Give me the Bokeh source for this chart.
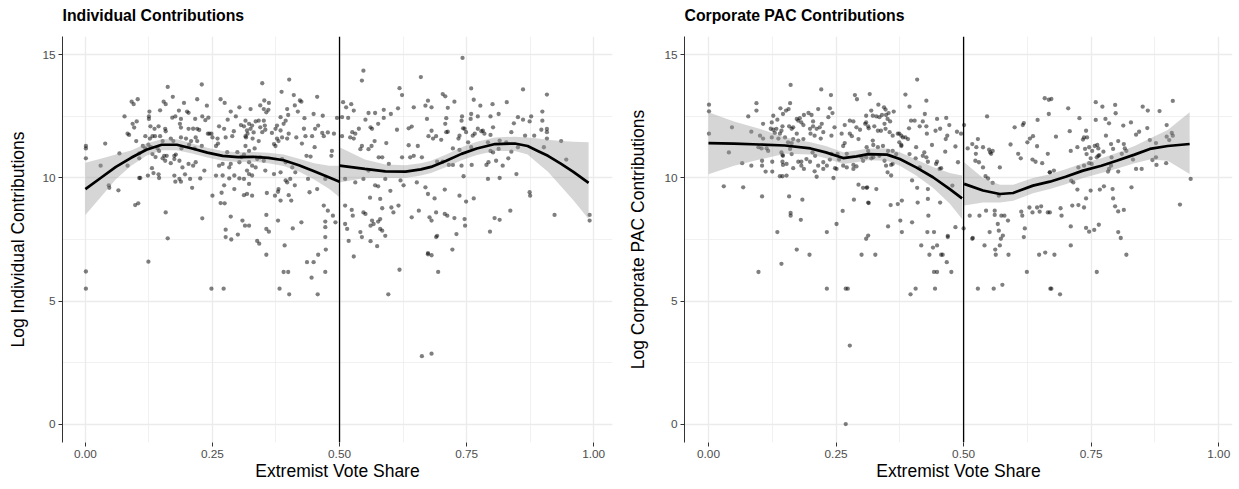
from bokeh.plotting import figure
from bokeh.layouts import row, column
from bokeh.models import FixedTicker, PrintfTickFormatter, Span, Range1d
from bokeh.core.properties import value
from bokeh.embed import file_html
from bokeh.resources import INLINE

# ---------------- data: Individual contributions ----------------
ind_x = [0.001,0.001,0.001,0.039,0.03,0.046,0.047,0.065,0.098,0.104,0.158,0.23,
0.162,0.229,0.172,0.154,0.158,0.194,0.22,0.239,0.266,0.274,0.126,0.125,0.125,0.147,0.184,0.2,0.203,0.177,0.171,0.188,0.216,0.23,0.236,0.242,0.28,0.286,0.296,0.303,
0.077,0.091,0.095,0.103,0.101,0.093,0.096,
0.128,0.136,0.144,0.157,0.158,0.186,0.188,0.203,0.212,0.22,0.224,0.241,0.248,0.263,0.273,0.292,0.306,0.312,
0.083,0.086,0.1,0.118,0.127,0.132,0.137,0.147,0.152,0.168,0.173,0.188,0.198,0.208,0.217,0.22,0.244,0.25,0.26,0.276,0.289,0.316,0.319,
0.113,0.118,0.124,0.129,0.142,0.145,0.155,0.16,0.175,0.178,0.189,0.204,0.215,0.229,0.257,0.261,0.279,0.299,0.312,0.067,0.106,0.106,0.132,0.138,0.152,0.157,0.168,0.175,0.185,0.191,0.203,0.212,0.217,0.234,0.263,0.27,0.283,0.286,0.303,0.307,
0.083,0.106,0.108,0.123,0.131,0.134,0.144,0.145,0.175,0.177,0.185,0.196,0.206,0.226,0.21,0.188,0.257,0.27,0.283,0.293,0.303,0.312,0.273,0.293,0.25,0.268,0.312,0.266,0.274,0.286,0.309,0.276,0.3,0.314,0.162,
0.001,0.001,0.124,0.248,0.272,0.276,0.287,
0.348,0.401,0.386,0.41,0.422,0.425,0.456,0.325,0.352,0.361,0.344,0.351,0.356,0.36,0.397,0.399,0.412,0.418,0.384,0.431,0.467,0.449,
0.315,0.322,0.328,0.335,0.341,0.351,0.353,0.318,0.325,0.331,0.344,0.348,0.354,0.315,0.329,0.341,0.377,0.39,0.394,0.367,0.374,0.384,0.377,0.38,0.387,0.371,0.374,0.397,0.4,0.415,0.43,0.433,0.426,0.446,0.452,0.458,0.466,0.469,0.477,0.489,0.495,0.485,0.484,0.435,0.443,0.451,0.315,0.322,0.333,
0.322,0.328,0.335,0.318,0.322,0.328,0.338,0.344,0.351,0.354,0.371,0.384,0.387,0.394,0.407,0.413,0.394,0.397,0.403,0.412,0.38,0.322,0.318,0.328,0.357,0.373,0.379,0.4,0.405,0.384,0.441,0.438,0.456,0.472,0.469,0.477,0.487,0.492,0.472,0.425,0.379,0.356,0.322,0.356,0.361,0.408,0.472,
0.338,0.342,0.356,0.392,0.472,0.473,0.458,0.436,0.449,0.39,0.399,0.472,0.445,0.382,0.401,0.457,
0.518,0.544,0.561,0.574,0.528,0.618,0.596,0.674,0.662,0.681,
0.547,0.544,0.618,0.623,0.66,0.507,0.513,0.523,0.528,0.505,0.517,0.557,0.57,0.587,0.587,0.601,0.615,0.551,0.561,0.564,0.538,0.525,0.531,0.521,0.528,0.569,0.592,0.505,0.576,0.613,0.636,0.642,0.646,0.669,0.674,0.672,0.675,0.544,0.541,0.557,0.563,0.577,0.584,0.597,0.623,0.636,0.654,0.639,0.646,0.662,0.511,0.531,0.547,0.557,0.57,0.576,0.59,0.6,0.62,0.626,0.652,0.669,0.58,0.56,0.606,0.616,0.511,0.524,0.547,0.551,0.526,0.564,0.576,0.58,0.584,0.602,0.642,0.656,0.561,0.567,0.58,0.584,0.511,0.515,0.59,0.541,
0.742,0.759,0.861,0.908,0.703,0.708,0.681,0.726,0.764,0.801,0.829,0.713,0.777,0.759,0.758,0.772,0.741,0.71,0.708,0.74,0.743,0.797,0.813,0.851,0.861,0.874,0.877,0.899,0.899,0.843,0.897,0.908,0.908,0.681,0.69,0.684,0.71,0.713,0.736,0.734,0.746,0.749,0.762,0.766,0.782,0.785,0.802,0.797,0.772,0.779,0.838,0.865,0.883,0.908,0.936,0.7,0.723,0.736,0.753,0.759,0.792,0.797,0.802,0.815,0.813,0.828,0.838,0.851,0.902,0.703,0.715,0.723,0.74,0.76,0.789,0.793,0.808,0.821,0.832,0.692,0.946,0.744,0.792,0.815,0.848,0.707,0.674,0.687,0.736,0.749,0.764,0.874,0.875,0.707,0.712,0.69,0.726,0.746,0.747,0.677,0.681,0.805,0.815,0.836,0.923,0.992,0.992,0.692,0.73,0.796,
0.674,0.681,0.722,0.694,0.69]
ind_y = [11.3,11.2,10.8,11.4,10.5,9.7,9.6,9.5,8.9,8.97,8.6,8.36,
13.7,13.8,13.3,13.1,13.0,13.05,13.2,12.94,13.2,13.05,12.7,12.5,12.4,12.75,12.74,12.7,12.65,12.5,12.45,12.4,12.4,12.5,12.35,12.45,12.37,12.7,12.5,12.87,
12.5,13.1,13.0,13.2,12.3,12.2,12.05,
12.1,12.0,12.1,12.0,11.9,12.2,12.05,12.0,12.0,12.0,11.95,11.8,11.8,12.1,12.0,11.9,12.15,12.1,
11.8,11.75,11.5,11.7,11.6,11.7,11.7,11.7,11.5,11.6,11.5,11.65,11.6,11.5,11.65,11.5,11.8,11.65,11.6,11.65,11.7,11.65,11.8,
11.3,11.2,11.35,11.25,11.2,11.1,10.9,10.9,10.9,10.95,11.2,11.35,11.2,11.3,11.3,11.4,11.05,11.05,10.95,11.0,11.0,10.8,10.97,10.85,10.8,10.7,10.6,10.77,10.7,10.43,10.57,10.5,10.64,10.3,10.5,10.57,10.43,10.57,10.64,10.85,
10.5,10.0,10.0,10.1,10.4,10.2,10.15,10.0,10.1,9.85,9.96,10.15,9.96,9.98,9.6,9.85,10.1,10.1,9.98,10.1,9.98,9.96,9.7,9.55,9.28,9.4,9.3,8.98,8.97,8.43,8.27,7.9,7.7,8.06,7.55,
6.2,5.5,6.6,5.5,5.5,7.6,7.5,
13.85,14.0,13.5,13.37,13.15,13.1,13.3,12.8,13.15,13.05,12.95,12.8,12.67,12.77,12.8,12.56,12.95,12.7,12.47,12.43,12.53,12.6,
12.33,12.2,12.13,12.3,12.33,12.33,12.13,11.93,12.0,11.85,12.06,11.86,11.96,11.7,11.6,11.5,12.13,12.2,12.33,11.83,12.0,11.93,11.6,11.5,11.65,11.38,11.3,11.6,11.8,11.65,12.0,11.7,11.4,11.7,12.0,12.13,11.83,11.7,11.85,11.8,12.44,11.1,10.9,10.9,10.87,11.25,11.3,11.1,11.2,
10.64,10.5,10.43,10.3,10.16,10.1,10.77,10.84,10.7,10.3,10.16,10.23,10.77,10.64,10.43,10.23,9.9,9.82,9.96,9.7,9.55,9.76,9.35,9.28,9.39,9.28,9.44,9.3,9.08,9.08,9.42,9.96,9.55,9.96,8.88,8.67,8.47,8.2,8.23,8.2,8.27,8.5,8.06,7.93,7.82,7.95,8.0,
7.44,7.33,6.88,7.26,7.6,7.09,6.88,6.58,6.58,6.18,6.18,6.18,5.95,5.5,5.27,5.27,
7.44,7.6,7.43,7.23,6.81,6.27,5.27,6.9,2.76,2.86,
14.36,13.96,13.65,13.37,14.1,13.08,12.87,13.0,12.74,12.47,12.44,12.64,12.64,12.77,12.44,12.6,12.83,12.37,12.06,12.0,12.0,11.86,11.8,11.65,11.6,11.5,11.42,11.7,12.2,11.96,12.02,12.09,12.87,12.94,13.14,12.4,11.7,11.3,11.17,11.17,11.3,10.84,10.84,10.57,10.84,11.33,11.3,10.84,10.9,10.84,9.96,9.82,9.96,10.3,9.7,9.66,9.96,9.48,9.9,9.7,9.82,9.62,9.15,9.2,8.6,8.88,8.88,8.7,8.6,8.54,8.47,8.27,8.23,8.33,8.77,8.8,8.4,8.67,8.06,8.13,7.93,7.86,8.13,7.93,7.65,7.8,
14.88,13.64,13.6,13.39,13.41,13.32,12.87,13.1,13.18,13.0,13.08,12.85,12.94,12.6,12.4,12.5,12.5,12.43,12.2,12.33,12.02,12.5,12.6,12.47,12.37,12.3,12.5,12.7,12.33,12.22,11.96,11.99,11.86,11.92,11.7,11.6,11.86,11.88,11.72,11.6,12.0,11.86,11.72,11.8,11.92,11.8,12.06,11.75,12.0,11.9,11.86,11.72,11.72,11.6,11.5,11.55,11.2,11.14,11.45,11.25,11.45,11.1,11.04,11.52,11.18,11.45,11.07,11.25,11.25,10.66,10.53,10.53,10.5,10.53,10.53,10.64,10.7,10.5,10.8,10.66,10.75,10.07,9.96,10.0,10.16,9.53,9.35,9.17,9.28,9.04,9.17,9.42,9.28,8.54,8.47,8.6,8.37,8.33,8.06,8.4,8.27,8.37,8.3,8.67,8.5,8.5,8.27,7.65,7.72,7.82,
6.95,6.86,7.09,6.18,7.6]

# loess fits: below / above the 0.5 threshold
ind_fit_a_x = [0.0,0.03,0.06,0.09,0.12,0.15,0.18,0.21,0.24,0.27,0.30,0.33,0.36,0.39,0.42,0.45,0.48,0.50]
ind_fit_a = [9.55,10.0,10.45,10.82,11.15,11.35,11.35,11.2,11.03,10.9,10.85,10.86,10.82,10.72,10.52,10.27,10.02,9.85]
ind_hi_a = [10.62,10.78,10.95,11.12,11.4,11.57,11.57,11.4,11.23,11.1,11.05,11.06,11.03,10.95,10.78,10.6,10.5,10.5]
ind_lo_a = [8.5,9.22,9.95,10.5,10.9,11.13,11.13,11.0,10.83,10.7,10.65,10.66,10.6,10.49,10.26,9.94,9.55,9.22]
ind_fit_b_x = [0.50,0.55,0.59,0.63,0.66,0.68,0.71,0.74,0.77,0.806,0.845,0.87,0.89,0.91,0.936,0.96,0.99]
ind_fit_b = [10.5,10.37,10.27,10.26,10.35,10.45,10.7,10.98,11.2,11.38,11.4,11.3,11.1,10.9,10.57,10.25,9.8]
ind_hi_b = [11.25,10.75,10.55,10.52,10.6,10.7,10.95,11.25,11.47,11.65,11.68,11.65,11.6,11.55,11.5,11.47,11.45]
ind_lo_b = [9.82,10.0,10.0,10.0,10.1,10.2,10.45,10.72,10.93,11.1,11.1,10.95,10.6,10.25,9.65,9.1,8.33]

# ---------------- data: Corporate PAC contributions ----------------
pac_x = [0.001,0.001,0.001,0.046,0.04,0.03,0.068,0.066,0.084,0.078,0.094,0.094,0.084,0.101,0.107,0.098,0.104,0.107,0.105,0.105,0.105,0.112,0.125,0.125,0.124,0.127,0.135,0.141,0.146,0.152,0.157,0.16,0.161,0.145,0.122,0.127,0.13,0.133,0.14,0.143,0.124,0.137,0.15,0.156,0.158,0.163,0.166,0.173,0.176,0.179,0.187,0.196,0.202,0.182,0.186,0.199,0.205,0.212,0.218,0.222,0.205,0.215,0.221,0.238,0.24,0.243,0.235,0.247,0.267,0.277,0.284,0.287,0.291,0.309,0.29,0.297,0.307,0.313,0.277,0.281,0.261,0.241,0.225,0.22,0.2,0.208,0.186,0.173,0.176,0.163,0.166,0.114,0.117,0.143,0.146,0.16,0.163,0.176,0.182,0.192,0.199,0.204,0.209,0.215,0.225,0.238,0.241,0.253,0.256,0.264,0.267,0.271,0.284,0.29,0.284,0.3,0.303,0.31,0.313,0.294,0.145,0.146,0.153,0.145,0.153,0.145,0.14,0.166,0.182,0.187,0.208,0.212,0.225,0.232,0.248,0.251,0.245,0.264,0.271,0.294,0.303,0.31,0.285,0.263,0.251,0.232,0.135,0.161,0.161,0.158,0.184,0.181,0.313,0.313,
0.098,0.143,0.173,0.198,0.232,0.269,0.273,0.3,0.309,0.277,0.269,
0.409,0.386,0.427,0.394,0.316,0.333,0.344,0.347,0.319,0.322,0.329,0.335,0.34,0.348,0.351,0.353,0.363,0.356,0.345,0.347,0.338,0.309,0.314,0.325,0.332,0.355,0.361,0.371,0.374,0.378,0.381,0.386,0.391,0.374,0.378,0.393,0.397,0.404,0.414,0.42,0.424,0.427,0.428,0.438,0.448,0.445,0.454,0.466,0.472,0.487,0.465,0.468,0.484,0.495,0.464,0.322,0.323,0.332,0.342,0.352,0.361,0.368,0.378,0.407,0.309,0.319,0.323,0.335,0.345,0.348,0.358,0.351,0.358,0.361,0.394,0.406,0.42,0.423,0.43,0.427,0.414,0.446,0.448,0.453,0.456,0.489,0.399,0.409,0.43,0.329,0.311,0.314,0.357,0.371,0.379,0.41,0.43,0.454,0.431,0.399,0.376,0.352,0.379,0.429,0.442,0.469,0.484,0.478,
0.327,0.417,0.44,0.448,0.433,0.456,0.459,0.467,0.442,0.448,0.476,0.406,0.396,0.444,0.469,
0.501,0.546,0.6,0.616,0.618,0.645,0.659,0.667,0.667,0.63,0.636,0.625,0.592,0.508,0.517,0.525,0.528,0.538,0.55,0.552,0.557,0.554,0.607,0.612,0.635,0.641,0.644,0.654,0.665,0.669,0.524,0.523,0.53,0.538,0.571,0.543,0.548,0.557,0.569,0.512,0.531,0.544,0.561,0.561,0.574,0.58,0.613,0.615,0.629,0.635,0.644,0.652,0.649,0.665,0.567,0.569,0.587,0.551,0.577,0.62,0.5,0.518,
0.517,0.541,0.571,0.562,0.563,0.588,0.573,0.618,0.624,0.648,0.66,0.528,0.559,0.576,0.67,
0.672,0.759,0.772,0.797,0.798,0.705,0.727,0.759,0.778,0.785,0.828,0.813,0.851,0.861,0.884,0.91,0.86,0.898,0.844,0.838,0.908,0.91,0.898,0.903,0.708,0.681,0.74,0.734,0.736,0.742,0.779,0.803,0.814,0.816,0.789,0.793,0.865,0.877,0.723,0.71,0.738,0.741,0.746,0.752,0.757,0.762,0.764,0.766,0.774,0.749,0.746,0.751,0.761,0.764,0.79,0.81,0.819,0.789,0.785,0.783,0.803,0.832,0.838,0.849,0.87,0.877,0.878,0.897,0.945,0.829,0.723,0.711,0.715,0.736,0.725,0.669,0.677,0.749,0.767,0.775,0.792,0.74,0.793,0.713,0.725,0.736,0.797,0.803,0.814,0.924,0.69,0.669,0.692,0.71,0.74,0.746,0.756,0.765,0.803,0.808,
0.71,0.678,0.819,0.761,0.672,0.689]
pac_y = [12.98,12.71,11.8,12.06,11.04,9.66,9.62,10.6,10.5,12.5,13.04,12.74,11.88,11.72,11.6,11.25,11.2,12.2,9.25,10.7,10.5,10.26,10.66,10.26,12.26,12.53,12.37,12.83,12.6,12.74,12.8,13.04,13.78,12.1,12.0,11.96,11.83,12.0,11.8,11.92,11.65,11.6,11.65,11.45,12.1,12.0,12.06,12.4,12.33,12.43,12.56,12.64,12.56,12.26,12.15,12.0,12.1,12.0,12.06,12.2,12.3,12.8,13.6,12.83,13.37,12.64,12.47,12.06,12.15,12.33,12.3,13.37,13.2,12.53,12.06,11.96,12.2,12.1,11.8,11.7,11.8,11.72,11.86,11.6,11.8,11.72,11.58,11.8,11.52,11.42,11.58,11.2,11.1,11.04,10.9,11.18,10.97,10.66,10.66,10.77,10.66,11.04,10.9,10.5,10.64,10.75,10.98,10.98,10.75,11.3,11.42,10.98,10.53,10.47,10.37,10.84,10.7,11.25,11.1,11.58,10.66,10.53,10.57,10.93,10.1,10.07,10.07,10.4,10.5,10.37,10.27,10.05,10.37,10.5,10.4,10.37,10.0,10.5,10.43,9.73,9.6,9.6,9.12,8.66,8.13,7.8,7.8,8.58,8.47,9.25,9.12,8.3,9.0,7.66,
6.18,6.51,7.09,6.88,5.5,5.5,5.5,6.88,7.53,3.19,0.0,
14.0,13.39,13.14,12.9,13.41,12.98,12.87,12.78,12.74,12.53,12.5,12.47,12.56,12.56,12.4,12.64,12.7,12.3,12.2,12.0,11.92,12.26,12.02,12.1,11.92,11.86,11.72,11.8,11.8,11.72,11.65,11.65,11.58,11.45,11.34,12.02,12.33,12.33,12.1,12.3,12.6,12.1,11.8,11.34,12.4,11.92,12.0,12.44,12.15,11.88,11.58,11.72,11.28,11.8,11.07,11.52,11.34,11.25,11.3,11.1,11.1,10.97,11.3,11.25,10.84,10.8,10.84,10.9,10.7,10.5,10.53,10.23,10.1,10.57,10.97,10.8,10.9,11.04,10.66,10.84,10.43,10.57,10.66,10.37,10.4,10.64,9.9,9.6,9.55,9.55,9.62,8.98,8.9,8.94,9.08,9.0,9.15,9.0,8.47,8.2,8.27,8.03,7.8,7.8,7.8,7.65,8.0,9.69,
6.88,7.26,7.17,7.26,6.88,6.88,6.88,6.58,6.18,6.18,6.18,5.5,5.27,5.5,7.6,
12.15,12.5,12.06,12.15,12.23,12.36,13.24,13.18,12.6,11.6,11.7,11.45,11.36,11.2,11.38,11.25,11.58,11.25,11.15,11.04,11.1,10.98,10.98,10.8,10.75,10.66,11.29,10.6,10.98,10.23,10.98,10.7,10.64,10.43,10.43,10.07,9.98,9.8,9.28,8.47,8.47,8.67,8.67,8.5,8.47,8.47,8.63,8.47,8.8,8.6,8.8,8.85,8.63,8.6,8.13,7.86,8.27,7.8,7.66,7.95,7.95,7.56,
7.53,7.26,7.26,7.09,6.88,6.88,7.53,7.6,6.18,6.88,6.97,5.5,5.5,5.66,5.5,
13.21,13.08,12.9,12.97,12.63,12.83,12.43,12.36,12.4,12.22,12.26,12.13,12.9,12.74,12.72,13.13,12.03,12.15,11.88,11.76,11.83,11.72,11.68,11.54,11.9,11.68,11.92,11.56,11.65,11.65,11.72,11.5,11.38,11.2,11.38,11.18,11.54,11.42,11.25,11.1,11.18,10.97,11.25,11.1,11.3,11.34,11.2,10.93,11.07,10.8,10.6,10.57,10.84,10.9,10.84,10.98,11.1,10.5,10.37,10.26,10.26,10.75,10.37,10.37,10.73,10.84,10.53,10.6,9.96,9.62,9.53,9.89,9.82,10.5,10.43,10.23,10.3,9.49,9.53,9.66,9.55,9.17,9.17,8.88,8.9,8.8,8.85,8.64,8.7,8.92,8.77,8.6,8.47,8.03,7.97,7.82,7.89,8.1,7.8,7.56,
7.26,6.88,6.88,6.18,5.5,5.27]

pac_fit_a_x = [0.0,0.05,0.10,0.15,0.20,0.23,0.264,0.29,0.313,0.35,0.375,0.407,0.44,0.473,0.497]
pac_fit_a = [11.42,11.4,11.36,11.32,11.2,11.04,10.81,10.88,10.97,10.95,10.77,10.43,10.03,9.55,9.17]
pac_hi_a = [12.67,12.3,12.0,11.65,11.45,11.3,11.05,11.12,11.2,11.2,11.05,10.75,10.45,10.2,10.1]
pac_lo_a = [10.15,10.5,10.75,10.98,10.95,10.8,10.57,10.64,10.72,10.7,10.5,10.1,9.6,8.95,8.33]
pac_fit_b_x = [0.501,0.538,0.571,0.597,0.636,0.669,0.70,0.734,0.77,0.80,0.835,0.865,0.90,0.943]
pac_fit_b = [9.76,9.49,9.35,9.39,9.69,9.85,10.05,10.3,10.5,10.7,10.95,11.18,11.3,11.38]
pac_hi_b = [10.64,10.0,9.72,9.72,10.0,10.15,10.35,10.6,10.8,11.02,11.3,11.6,11.95,12.67]
pac_lo_b = [8.88,9.0,9.0,9.07,9.38,9.55,9.75,10.0,10.2,10.38,10.6,10.75,10.7,10.16]

titles = ["Individual Contributions", "Corporate PAC Contributions"]
y_labels = ["Log Individual Contributions", "Log Corporate PAC Contributions"]
x_label = "Extremist Vote Share"
x_ticks = [0, 0.25, 0.5, 0.75, 1.0]
x_minor = [0.125, 0.375, 0.625, 0.875]
y_ticks = [0, 5, 10, 15]
y_minor = [2.5, 7.5, 12.5]
threshold = 0.5

FONT = "Liberation Sans"
TITLE_H = 36
MAIN_H = 453
BOTTOM = 47


def make_title(text, width):
    # the column aligns this strip's frame with the panel frame below it,
    # so x = 0 is the panel's left edge
    t = figure(width=width, height=TITLE_H, output_backend="svg", toolbar_location=None,
               x_range=Range1d(0, 1), y_range=Range1d(0, TITLE_H),
               x_axis_location=None, y_axis_location=None,
               min_border_left=0, min_border_right=0, min_border_top=0, min_border_bottom=0)
    t.grid.visible = False
    t.outline_line_color = None
    t.background_fill_color = "white"
    t.border_fill_color = "white"
    t.text(x=[0], y=[TITLE_H - 14.5], text=[text], text_font=value(FONT),
           text_font_size="15.8px", text_font_style="bold", text_color="black",
           text_align="left", text_baseline="middle")
    return t


def make_panel(ylabel, px, py, fa_x, fa, ha, la, fb_x, fb, hb, lb,
               width, border_left, border_right, xr, ylab_standoff):
    p = figure(width=width, height=MAIN_H, output_backend="svg", toolbar_location=None,
               x_range=Range1d(*xr), y_range=Range1d(-0.75, 15.75),
               min_border_left=border_left, min_border_right=border_right,
               min_border_top=0, min_border_bottom=BOTTOM)
    p.outline_line_color = None
    p.background_fill_color = "white"
    p.border_fill_color = "white"

    p.xaxis.ticker = FixedTicker(ticks=x_ticks, minor_ticks=x_minor)
    p.yaxis.ticker = FixedTicker(ticks=y_ticks, minor_ticks=y_minor)
    p.xaxis.formatter = PrintfTickFormatter(format="%.2f")
    for ax in (p.xaxis, p.yaxis):
        ax.major_label_text_font = FONT
        ax.major_label_text_font_size = "11.8px"
        ax.major_label_text_color = "#4D4D4D"
        ax.axis_label_text_font = FONT
        ax.axis_label_text_font_size = "17.5px"
        ax.axis_label_text_font_style = "normal"
        ax.axis_label_text_color = "black"
        ax.major_tick_line_color = "#333333"
        ax.major_tick_in = 0
        ax.major_tick_out = 4
        ax.minor_tick_line_color = None
        ax.major_label_standoff = 3
    p.xaxis.axis_label = x_label
    p.yaxis.axis_label = ylabel
    p.xaxis.axis_label_standoff = 0
    p.yaxis.axis_label_standoff = ylab_standoff
    p.xaxis.axis_line_color = None
    p.yaxis.axis_line_color = "#333333"

    for g in (p.xgrid, p.ygrid):
        g.grid_line_color = "#EBEBEB"
        g.grid_line_width = 1.3
        g.minor_grid_line_color = "#EBEBEB"
        g.minor_grid_line_width = 0.7

    p.scatter(px, py, size=4.3, fill_color="black", fill_alpha=0.5, line_color=None)
    p.varea(x=fa_x, y1=la, y2=ha, fill_color="#999999", fill_alpha=0.4)
    p.varea(x=fb_x, y1=lb, y2=hb, fill_color="#999999", fill_alpha=0.4)
    p.line(fa_x, fa, line_color="black", line_width=2.7)
    p.line(fb_x, fb, line_color="black", line_width=2.7)
    p.add_layout(Span(location=threshold, dimension="height", line_color="black", line_width=1.3))
    return p


t1 = make_title(titles[0], 620)
p1 = make_panel(y_labels[0], ind_x, ind_y, ind_fit_a_x, ind_fit_a, ind_hi_a, ind_lo_a,
                ind_fit_b_x, ind_fit_b, ind_hi_b, ind_lo_b,
                620, 62, 8, (-0.045, 1.037), 11)
t2 = make_title(titles[1], 619)
p2 = make_panel(y_labels[1], pac_x, pac_y, pac_fit_a_x, pac_fit_a, pac_hi_a, pac_lo_a,
                pac_fit_b_x, pac_fit_b, pac_hi_b, pac_lo_b,
                619, 64, 7, (-0.047, 1.027), 13)

layout = row(column(t1, p1, spacing=0), column(t2, p2, spacing=0), spacing=0)
open("out.html", "w").write(file_html(layout, INLINE))
